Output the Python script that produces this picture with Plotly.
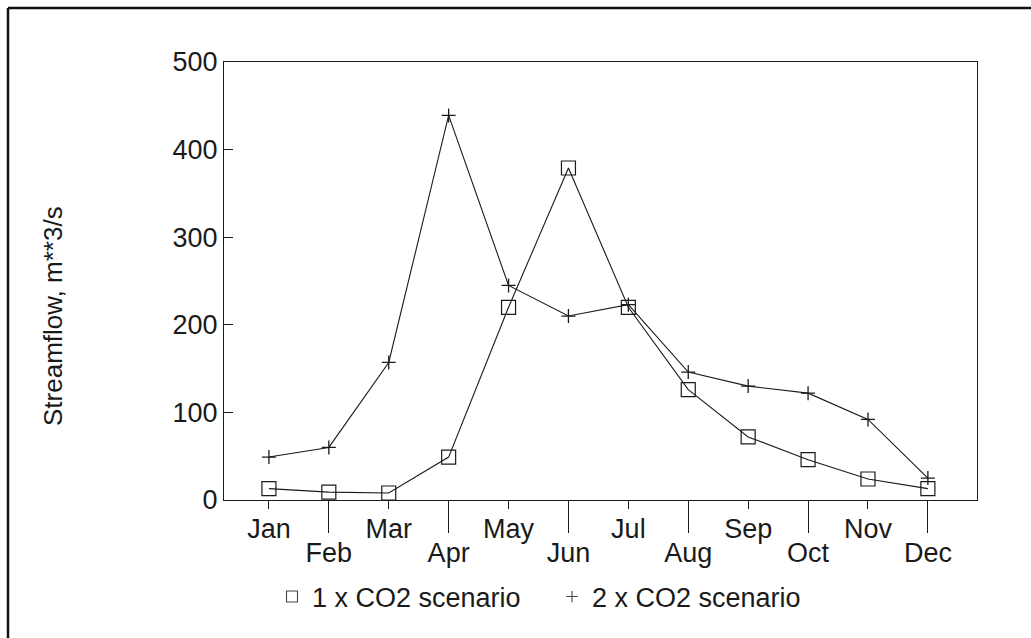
import plotly.graph_objects as go

months = ["Jan", "Feb", "Mar", "Apr", "May", "Jun", "Jul", "Aug", "Sep", "Oct", "Nov", "Dec"]
co2_1x = [13, 9, 8, 49, 220, 379, 220, 126, 72, 46, 24, 13]
co2_2x = [49, 60, 157, 439, 245, 210, 223, 146, 130, 122, 92, 25]
y_ticks = [0, 100, 200, 300, 400, 500]
series_names = ["1 x CO2 scenario", "2 x CO2 scenario"]
y_title = "Streamflow, m**3/s"

FONT = "Liberation Sans, Arial, Helvetica, sans-serif"
INK = "#1a1a1a"
FS = 27

# pixel geometry helpers (plot area: left 224, right 977, top 62, bottom 500)
L, R, T, B = 224, 977, 62, 500
W, H = 1031, 638
def px(x):
    return (x - L) / (R - L)
def py(y):
    return (B - y) / (B - T)

fig = go.Figure()

fig.add_trace(go.Scatter(
    x=months, y=co2_1x, mode="lines+markers", showlegend=False,
    line=dict(color=INK, width=1.1),
    marker=dict(symbol="square-open", size=14, color=INK, line=dict(width=1.2)),
))
fig.add_trace(go.Scatter(
    x=months, y=co2_2x, mode="lines+markers", showlegend=False,
    line=dict(color=INK, width=1.1),
    marker=dict(symbol="cross-thin-open", size=10, color=INK, line=dict(width=1.3, color=INK)),
))
# legend-only entries (marker only)
fig.add_trace(go.Scatter(
    x=[None], y=[None], mode="markers", name=series_names[0],
    marker=dict(symbol="square-open", size=11, color="#444", line=dict(width=1.1)),
))
fig.add_trace(go.Scatter(
    x=[None], y=[None], mode="markers", name=series_names[1],
    marker=dict(symbol="cross-thin-open", size=8, color="#444", line=dict(width=1.1, color="#444")),
))
# invisible trace for the secondary (long-tick) month axis
fig.add_trace(go.Scatter(
    x=months, y=co2_1x, mode="markers", xaxis="x2", showlegend=False,
    marker=dict(opacity=0), hoverinfo="skip",
))

xr = [-0.75, 11.82]
fig.update_layout(
    width=W, height=H,
    margin=dict(l=L, r=W - R, t=T, b=H - B),
    paper_bgcolor="white", plot_bgcolor="white",
    font=dict(family=FONT, size=FS, color=INK),
    xaxis=dict(
        type="category", categoryarray=months, range=xr,
        tickmode="array", tickvals=months[0::2], ticktext=months[0::2],
        ticks="outside", ticklen=8, tickwidth=1, tickcolor=INK,
        showline=True, linecolor=INK, linewidth=1.2, mirror=True,
        showgrid=False, zeroline=False, ticklabelstandoff=-4,
        tickfont=dict(family=FONT, size=FS, color=INK),
    ),
    xaxis2=dict(
        type="category", categoryarray=months, range=xr,
        overlaying="x", anchor="y", side="bottom",
        tickmode="array", tickvals=months[1::2], ticktext=months[1::2],
        ticks="outside", ticklen=32, tickwidth=1, tickcolor=INK,
        showline=False, showgrid=False, zeroline=False, ticklabelstandoff=-3,
        tickfont=dict(family=FONT, size=FS, color=INK),
    ),
    yaxis=dict(
        range=[0, 500], tickmode="array", tickvals=y_ticks,
        ticks="inside", ticklen=9, tickwidth=1, tickcolor=INK,
        showline=True, linecolor=INK, linewidth=1.2, mirror=True,
        showgrid=False, zeroline=False,
        tickfont=dict(family=FONT, size=FS, color=INK),
    ),
    legend=dict(
        orientation="h", x=px(272), xanchor="left", y=py(597), yanchor="middle",
        font=dict(family=FONT, size=FS, color=INK), itemwidth=30,
        entrywidth=235, entrywidthmode="pixels",
        bgcolor="rgba(0,0,0,0)", tracegroupgap=0,
    ),
    annotations=[dict(
        text=y_title, xref="paper", yref="paper", x=px(53), y=py(316),
        textangle=-90, showarrow=False, font=dict(family=FONT, size=26, color=INK),
        xanchor="center", yanchor="middle",
    )],
    shapes=[
        dict(type="line", xref="paper", yref="paper", x0=px(8), x1=px(1040), y0=py(8), y1=py(8),
             line=dict(color="#111", width=2.5)),
        dict(type="line", xref="paper", yref="paper", x0=px(8), x1=px(8), y0=py(8), y1=py(645),
             line=dict(color="#111", width=2.5)),
    ],
)

fig.write_html("out.html", config={"displayModeBar": False},
               post_script="document.body.style.margin='0px';")
